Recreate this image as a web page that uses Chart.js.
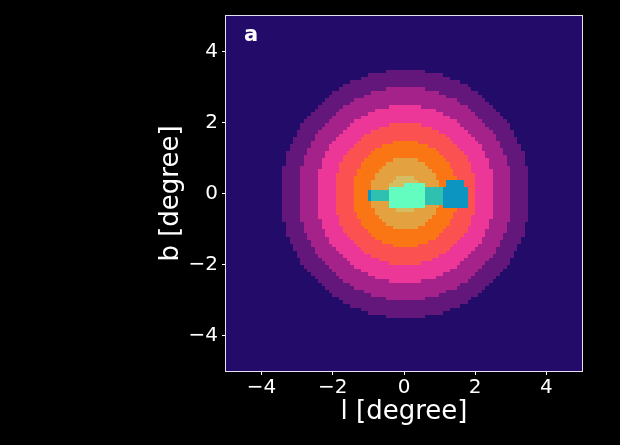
<!DOCTYPE html>
<html>
<head>
<meta charset="utf-8">
<script src="https://cdn.jsdelivr.net/npm/chart.js@4/dist/chart.umd.min.js"></script>
<style>
  html, body { margin: 0; padding: 0; background: #000; }
  #wrap { width: 620px; height: 445px; position: relative; }
</style>
</head>
<body>
<div id="wrap"><canvas id="map"></canvas></div>
<script>
// Map data (degrees): 0.1 deg cells over l, b in [-5, 5]
const cellSize = 0.1;
const lRange = [-5, 5];
const bRange = [-5, 5];
const backgroundLevel = '#220b69';

// concentric rings, outer to inner
const ringCenter = [0.05, 0];
const ringRadii = [3.5, 3.0, 2.5, 2.0, 1.5, 1.0, 0.5];
const ringColors = ['#64177a', '#a6228b', '#ec3698', '#fb5150', '#fa7514', '#e3a13f', '#d5bd62'];

// overlay patches along the plane (drawn in order)
const patchL0 = [-1.0, -0.9, 0.6, -0.4, 0.0, 1.1, 1.2];
const patchL1 = [-0.9, 1.1, 1.1, 0.6, 0.6, 1.8, 1.7];
const patchB0 = [-0.2, -0.2, -0.3, -0.4, 0.2, -0.4, 0.2];
const patchB1 = [0.1, 0.1, 0.2, 0.2, 0.3, 0.2, 0.4];
const patchColors = ['#0c93c0', '#2fc0b0', '#2fc0b0', '#64fdc0', '#64fdc0', '#0c95c0', '#0c95c0'];

const xTicks = [-4, -2, 0, 2, 4];
const yTicks = [-4, -2, 0, 2, 4];

function cellColor(l, b) {
  let c = backgroundLevel;
  const d = Math.hypot(l - ringCenter[0], b - ringCenter[1]);
  ringRadii.forEach((r, i) => { if (d < r) c = ringColors[i]; });
  for (let k = 0; k < patchL0.length; k++) {
    if (l > patchL0[k] && l < patchL1[k] && b > patchB0[k] && b < patchB1[k]) c = patchColors[k];
  }
  return c;
}

const cells = [];
const n = Math.round((lRange[1] - lRange[0]) / cellSize);
for (let i = 0; i < n; i++) {
  for (let j = 0; j < n; j++) {
    const l = lRange[0] + (i + 0.5) * cellSize;
    const b = bRange[0] + (j + 0.5) * cellSize;
    cells.push({ l, b, color: cellColor(l, b) });
  }
}

const fmt = v => (v < 0 ? '\u2212' + Math.abs(v) : String(v));

const cellPlugin = {
  id: 'cells',
  beforeDatasetsDraw(chart) {
    const { ctx, chartArea: a, scales: { x, y } } = chart;
    ctx.save();
    ctx.beginPath();
    ctx.rect(a.left, a.top, a.right - a.left, a.bottom - a.top);
    ctx.clip();
    const h = cellSize / 2;
    for (const c of cells) {
      const x0 = x.getPixelForValue(c.l - h), x1 = x.getPixelForValue(c.l + h);
      const y0 = y.getPixelForValue(c.b + h), y1 = y.getPixelForValue(c.b - h);
      ctx.fillStyle = c.color;
      ctx.fillRect(Math.floor(x0), Math.floor(y0), Math.ceil(x1) - Math.floor(x0), Math.ceil(y1) - Math.floor(y0));
    }
    ctx.restore();
  },
  afterDraw(chart) {
    const { ctx, chartArea: a } = chart;
    ctx.save();
    ctx.strokeStyle = '#e6e2f0';
    ctx.lineWidth = 1;
    ctx.strokeRect(a.left - 0.5, a.top - 0.5, a.right - a.left + 1, a.bottom - a.top + 1);
    // panel label
    ctx.fillStyle = '#ffffff';
    ctx.font = 'bold 21px "DejaVu Sans"';
    ctx.textBaseline = 'alphabetic';
    ctx.fillText('a', a.left + 18, a.top + 25);
    ctx.restore();
  }
};

new Chart(document.getElementById('map'), {
  type: 'scatter',
  data: { datasets: [{ data: [], showLine: false }] },
  plugins: [cellPlugin],
  options: {
    responsive: true, maintainAspectRatio: false, animation: false,
    layout: { padding: { left: 152, right: 38, top: 15, bottom: 13 } },
    plugins: { legend: { display: false }, tooltip: { enabled: false } },
    scales: {
      x: {
        type: 'linear', min: lRange[0], max: lRange[1],
        afterBuildTicks: s => { s.ticks = xTicks.map(v => ({ value: v })); },
        afterFit: s => { s.height = 61; },
        grid: { display: true, drawOnChartArea: false, drawTicks: true, tickLength: 4, color: '#ffffff' },
        border: { display: false },
        ticks: { color: '#ffffff', font: { family: 'DejaVu Sans', size: 20 }, padding: 1, maxRotation: 0, callback: fmt },
        title: { display: true, text: 'l [degree]', color: '#ffffff', font: { family: 'DejaVu Sans', size: 26 } }
      },
      y: {
        type: 'linear', min: bRange[0], max: bRange[1],
        afterBuildTicks: s => { s.ticks = yTicks.map(v => ({ value: v })); },
        afterFit: s => { s.width = 74; },
        grid: { display: true, drawOnChartArea: false, drawTicks: true, tickLength: 4, color: '#ffffff' },
        border: { display: false },
        ticks: { color: '#ffffff', font: { family: 'DejaVu Sans', size: 20 }, padding: 4, callback: fmt },
        title: { display: true, text: 'b [degree]', color: '#ffffff', font: { family: 'DejaVu Sans', size: 26 } }
      }
    }
  }
});
</script>
</body>
</html>
